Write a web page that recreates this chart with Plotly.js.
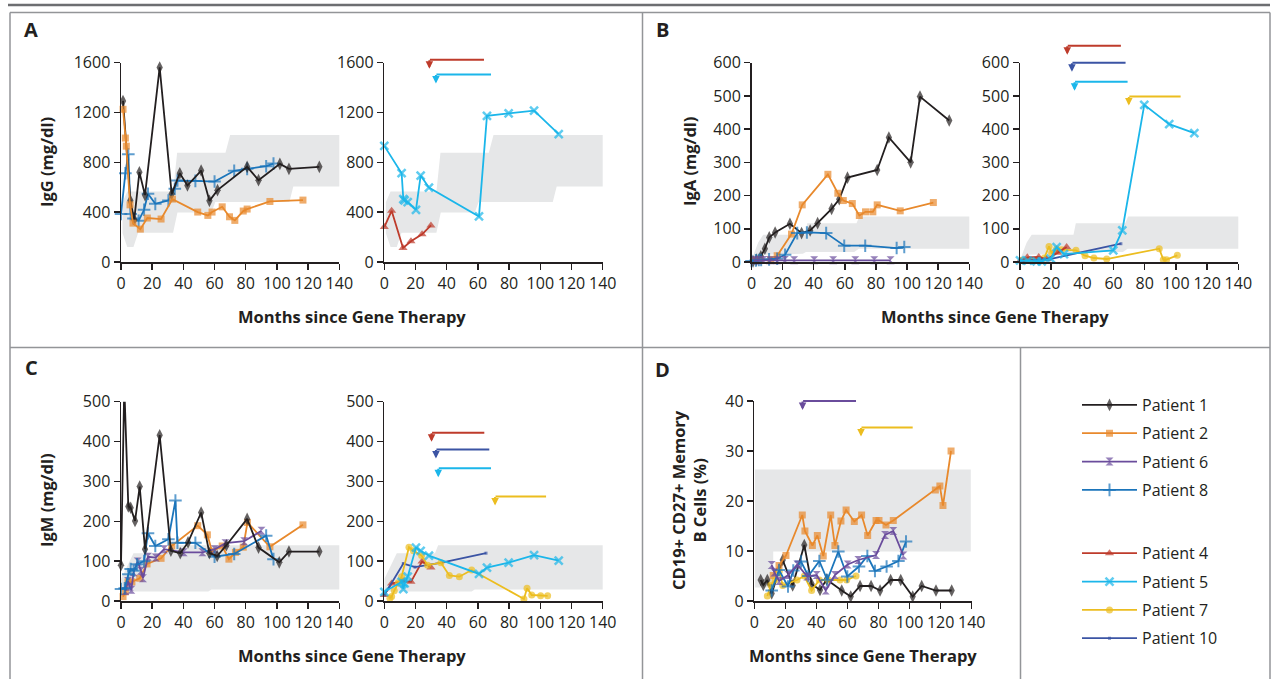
<!DOCTYPE html>
<html><head><meta charset="utf-8">
<script src="https://cdn.plot.ly/plotly-3.0.1.min.js"></script>
<style>html,body{margin:0;padding:0;background:#fff}#chart{width:1274px;height:679px}</style>
</head><body><div id="chart"></div>
<script>
// ---------------- DATA (months since gene therapy, values) ----------------
// Panel A – IgG (mg/dl)
const igg_p1_m = [1.3, 6, 8.5, 11.8, 15.4, 24.8, 32.5, 37.7, 42.6, 51.4, 56.7, 61.9, 80.9, 88.2, 101.9, 107.7, 127.2];
const igg_p1_v = [1293, 494, 340, 721, 537, 1562, 547, 713, 614, 734, 491, 577, 764, 657, 788, 748, 764];
const igg_p2_m = [1.3, 2.8, 3.4, 5.8, 7.7, 12.4, 16.9, 25.7, 33, 49.2, 55.7, 58.4, 64.9, 69.6, 73, 78.4, 80.9, 95.5, 116.7];
const igg_p2_v = [1226, 995, 930, 459, 312, 264, 353, 345, 505, 401, 374, 401, 443, 363, 334, 409, 425, 486, 497];
const igg_p8_m = [0, 2.8, 4.7, 6.2, 8, 11.3, 14.8, 17.3, 22, 30.4, 34.5, 36.2, 47.7, 60, 72.6, 80.9, 93.1, 97.8];
const igg_p8_v = [385, 713, 865, 385, 350, 331, 419, 548, 467, 494, 588, 654, 651, 646, 732, 748, 769, 790];
const igg_p5_m = [0, 11.1, 12.2, 13, 15, 20.3, 23.3, 28.6, 60.7, 65.8, 79.7, 96, 111.8];
const igg_p5_v = [932, 713, 505, 494, 481, 419, 694, 598, 366, 1173, 1194, 1215, 1026];
const igg_p4_m = [0, 4.7, 12, 17.1, 24.2, 29.9];
const igg_p4_v = [280, 411, 112, 166, 222, 294];
// normal range band (IgG)
const igg_band_up_m = [1, 4, 33.4, 36, 67, 70, 140.5];
const igg_band_up_v = [480, 566, 566, 877, 877, 1020, 1020];
const igg_band_lo_m = [1, 4, 8, 11, 33.4, 36.2, 58, 60.5, 108, 110.5, 140.5];
const igg_band_lo_v = [230, 120, 120, 235, 235, 398, 398, 481, 481, 606, 606];

// Panel B – IgA (mg/dl)
const iga_p1_m = [1, 3.2, 6, 8.6, 11.4, 15.2, 24.7, 32.2, 37.7, 42.5, 51.5, 56.4, 61.7, 80.8, 88.3, 102.3, 108.3, 127.1];
const iga_p1_v = [2, 7, 17, 40, 74, 89, 115, 87, 95, 117, 160, 189, 254, 277, 375, 300, 498, 426];
const iga_p2_m = [1.3, 5.4, 12.4, 16.5, 25.7, 32.6, 49.1, 55.5, 59, 64.8, 69.3, 73.3, 78, 80.8, 95.6, 116.9];
const iga_p2_v = [5, 7, 8, 19, 84, 172, 264, 207, 185, 176, 140, 151, 151, 172, 154, 179];
const iga_p8_m = [0, 2.8, 4.7, 6.2, 11.3, 16.5, 21.6, 29.4, 35.6, 48, 59.6, 73.1, 93.3, 98.2];
const iga_p8_v = [3, 5, 6, 6, 8, 10, 22, 87, 89, 87, 49, 49, 42, 45];
const iga_p6_m = [1.7, 4.3, 7.5, 11.8, 16.5, 21.4, 27.4, 40.3, 52.5, 66.7, 78.9, 89.4];
const iga_p6_v = [5, 5, 6, 5, 5, 6, 5, 5, 5, 5, 5, 5];
const iga_p5_m = [0, 5, 10.7, 13.9, 19.7, 23.5, 28.2, 59.8, 65.6, 79.7, 95.7, 111.8];
const iga_p5_v = [5, 4, 2, 2, 10, 45, 24, 35, 95, 473, 415, 388];
const iga_p4_m = [0, 4.7, 12, 17.1, 24.2, 29.9];
const iga_p4_v = [3, 14, 15, 8, 28, 45];
const iga_p7_m = [1, 3.5, 6.4, 9.6, 15.6, 18.6, 20.3, 23.5, 26.7, 35.9, 41.7, 47.4, 55.6, 89.3, 91.9, 94, 100.9];
const iga_p7_v = [5, 5, 5, 5, 12, 47, 27, 39, 37, 35, 19, 12, 9, 40, 7, 7, 20];
const iga_p10_m = [0, 19.2, 64.7];
const iga_p10_v = [3, 9, 55];
const iga_band_up_m = [0.5, 4.3, 7.5, 34.3, 35.8, 67.5, 69.3, 140.5];
const iga_band_up_v = [12, 59, 82, 82, 117, 117, 137, 137];
const iga_band_lo_m = [0.5, 5, 33, 35, 66, 69, 140.5];
const iga_band_lo_v = [5, 22, 25, 30, 30, 40, 40];

// Panel C – IgM (mg/dl)
const igm_p1_m = [0, 2.1, 4.7, 6.2, 9, 12, 15.4, 24.8, 32, 38, 43, 51.4, 56.7, 61.7, 67.6, 80.9, 88.2, 101.5, 107.7, 127.2];
const igm_p1_v = [90, 540, 237, 234, 201, 287, 130, 416, 126, 120, 147, 222, 120, 113, 140, 206, 134, 97, 124, 124];
const igm_p2_m = [1.3, 2.8, 4.5, 7, 12, 16.7, 25.7, 32.5, 49.2, 55.4, 58.4, 64.9, 69.2, 73.4, 78.4, 81.1, 95.5, 116.7];
const igm_p2_v = [11, 23, 48, 48, 57, 93, 107, 138, 189, 166, 124, 138, 105, 122, 135, 197, 136, 191];
const igm_p8_m = [0, 2.4, 4.7, 6.2, 8.1, 10.3, 14.8, 17.3, 22, 30.4, 34.9, 36.2, 47.7, 60, 72.6, 93.1, 97.8];
const igm_p8_v = [30, 32, 67, 80, 76, 92, 100, 170, 138, 155, 252, 146, 146, 111, 118, 164, 105];
const igm_p6_m = [2.8, 4.5, 5.6, 6.6, 8.1, 10.7, 12.8, 14.1, 17.3, 22.3, 27.6, 40.2, 52.2, 60.2, 67, 79, 90.1];
const igm_p6_v = [25, 50, 36, 28, 72, 99, 76, 57, 111, 109, 130, 122, 122, 130, 145, 150, 176];
const igm_p5_m = [0, 11.1, 12.2, 13, 15, 20.3, 23.3, 28.6, 60.7, 65.8, 79.7, 96, 111.8];
const igm_p5_v = [23, 48, 30, 44, 61, 134, 126, 114, 68, 84, 96, 115, 101];
const igm_p4_m = [0, 4.7, 12, 17.1, 24.2, 29.9];
const igm_p4_v = [15, 44, 50, 48, 99, 84];
const igm_p7_m = [3.6, 4.7, 6.4, 9, 11.1, 15.8, 18.6, 23.9, 27.8, 36.3, 41.7, 48.1, 56, 89.5, 91.5, 94.5, 100.2, 104.7];
const igm_p7_v = [7, 11, 26, 46, 61, 135, 126, 114, 90, 96, 64, 61, 78, 5, 32, 15, 13, 13];
const igm_p10_m = [0, 12.2, 19.7, 36.8, 65.2];
const igm_p10_v = [15, 94, 85, 96, 120];
const igm_band_up_m = [0, 8, 32.5, 34.5, 140.5];
const igm_band_up_v = [55, 120, 120, 140, 140];
const igm_band_lo_m = [0, 56, 58, 140.5];
const igm_band_lo_v = [24, 24, 29, 29];

// Panel D – CD19+ CD27+ memory B cells (%)
const mb_p1_m = [4.1, 5.8, 8.4, 11.2, 18.3, 24.7, 32.2, 36.9, 42.3, 46.6, 56.3, 62.1, 68.1, 75.2, 81, 87.8, 94.3, 102, 107.8, 117, 127.1];
const mb_p1_v = [4.2, 3.2, 4.2, 1.5, 8.2, 3.1, 11.2, 3.4, 2.2, 4.3, 2.1, 0.9, 3, 3, 2.1, 4.2, 4.2, 0.9, 3, 2.1, 2.1];
const mb_p2_m = [12.2, 15.9, 20.4, 30.9, 32.6, 37.4, 40.6, 44.4, 49.2, 51.9, 55.8, 59.1, 64.4, 69.1, 73, 78.4, 80.3, 84.8, 89.5, 116.6, 119.5, 121.5, 126.7];
const mb_p2_v = [5.1, 7.1, 9.1, 17.2, 14, 11.1, 13.1, 9, 17.2, 11.1, 16, 18.2, 15.9, 17.2, 13.1, 16.1, 16.1, 15.2, 16.1, 22.2, 23, 19.1, 30];
const mb_p6_m = [11.2, 12.9, 16, 21.9, 27.7, 34.1, 40.2, 46, 51.9, 60.1, 67, 78.4, 84.2, 89.5, 96];
const mb_p6_v = [7.2, 5.7, 4, 5.2, 7.3, 4.9, 5.2, 2.1, 5.2, 7.3, 8.2, 9.2, 13.2, 14, 9.1];
const mb_p8_m = [11.2, 15.9, 21.7, 25.1, 30.1, 34.8, 41.9, 47, 54.1, 59.9, 67.4, 72.8, 77.7, 85.2, 92.8, 97.7];
const mb_p8_v = [2.1, 6.2, 2.9, 6.1, 7.9, 5, 8, 4.2, 9.9, 4.9, 6.9, 9, 6, 6.9, 8, 11.9];
const mb_p7_m = [8.4, 10.7, 13.3, 16.1, 18.3, 27.5, 32.2, 36.9, 41.9, 47.7, 55.2, 59.5, 65.5];
const mb_p7_v = [1, 3.2, 4.2, 5.9, 3.1, 4.2, 5, 2.1, 4.2, 4.2, 4.2, 4.2, 5];
const mb_band_up_m = [0.4, 139.4];
const mb_band_up_v = [26.3, 26.3];
const mb_band_lo_m = [0.4, 12.2, 12.2, 139.4];
const mb_band_lo_v = [2.7, 2.7, 9.9, 9.9];

// Event markers: [patient, start month, end month, level]
const igg_events = [['p4', 28.9, 63.9, 1624], ['p5', 33.1, 68.4, 1506]];
const iga_events = [['p4', 30.3, 64.7, 651], ['p10', 33.3, 67.7, 600], ['p5', 35, 69, 543], ['p7', 69.8, 103, 498]];
const igm_events = [['p4', 30.3, 64.1, 422], ['p10', 33.1, 67.3, 380], ['p5', 34.6, 68.4, 333], ['p7', 71, 103.7, 262]];
const mb_events = [['p6', 31.1, 65.5, 40], ['p7', 68.7, 102, 34.7]];

// ---------------- STYLES ----------------
const FONT = 'Open Sans, Noto Sans, sans-serif';
const INK = '#231f20';
const W = 1274, H = 679;
const P = {
  p1:  {name: 'Patient 1',  color: '#231f20', symbol: 'diamond-tall', size: 9, lw: 0},
  p2:  {name: 'Patient 2',  color: '#e8892c', symbol: 'square', size: 7, lw: 0},
  p6:  {name: 'Patient 6',  color: '#6a4c9c', symbol: 'hourglass', size: 8, lw: 0},
  p8:  {name: 'Patient 8',  color: '#1b75bb', symbol: 'cross-thin-open', size: 9, lw: 2},
  p4:  {name: 'Patient 4',  color: '#be3b2b', symbol: 'triangle-up', size: 8, lw: 0},
  p5:  {name: 'Patient 5',  color: '#1bb6ea', symbol: 'x-thin-open', size: 8, lw: 2.5},
  p7:  {name: 'Patient 7',  color: '#ecbd1f', symbol: 'circle', size: 7, lw: 0},
  p10: {name: 'Patient 10', color: '#3b54a4', symbol: 'square', size: 3, lw: 0}
};
const legendOf = {p1: 'legend', p2: 'legend2', p6: 'legend3', p8: 'legend4', p4: 'legend5', p5: 'legend6', p7: 'legend7', p10: 'legend8'};
const legendRowY = {p1: 405, p2: 433.3, p6: 461.7, p8: 490, p4: 553.3, p5: 581.7, p7: 610, p10: 638.3};

const px = x => x / W;
const py = y => 1 - y / H;

const traces = [];
function band(ax, upM, upV, loM, loV) {
  traces.push({
    type: 'scatter', mode: 'lines', xaxis: 'x' + ax, yaxis: 'y' + ax,
    x: upM.concat(loM.slice().reverse()), y: upV.concat(loV.slice().reverse()),
    fill: 'toself', fillcolor: '#e6e7e8', line: {width: 0}, showlegend: false, hoverinfo: 'skip'
  });
}
function series(ax, key, m, v, ymax, withLegend) {
  const s = P[key];
  traces.push({
    type: 'scatter', mode: 'lines+markers', xaxis: 'x' + ax, yaxis: 'y' + ax,
    x: m, y: v, name: s.name,
    line: {color: s.color, width: 1.8},
    marker: {symbol: s.symbol, color: s.color, size: v.map(d => d > ymax ? 0 : s.size),
             line: {color: s.color, width: s.lw}},
    cliponaxis: false, hoverinfo: 'skip',
    showlegend: !!withLegend, legend: legendOf[key]
  });
}

// A
band('', igg_band_up_m, igg_band_up_v, igg_band_lo_m, igg_band_lo_v);
band('2', igg_band_up_m, igg_band_up_v, igg_band_lo_m, igg_band_lo_v);
series('', 'p8', igg_p8_m, igg_p8_v, 1600);
series('', 'p1', igg_p1_m, igg_p1_v, 1600);
series('', 'p2', igg_p2_m, igg_p2_v, 1600);
series('2', 'p4', igg_p4_m, igg_p4_v, 1600);
series('2', 'p5', igg_p5_m, igg_p5_v, 1600);
// B
band('3', iga_band_up_m, iga_band_up_v, iga_band_lo_m, iga_band_lo_v);
band('4', iga_band_up_m, iga_band_up_v, iga_band_lo_m, iga_band_lo_v);
series('3', 'p1', iga_p1_m, iga_p1_v, 600);
series('3', 'p2', iga_p2_m, iga_p2_v, 600);
series('3', 'p8', iga_p8_m, iga_p8_v, 600);
series('3', 'p6', iga_p6_m, iga_p6_v, 600);
series('4', 'p7', iga_p7_m, iga_p7_v, 600);
series('4', 'p4', iga_p4_m, iga_p4_v, 600);
series('4', 'p10', iga_p10_m, iga_p10_v, 600);
series('4', 'p5', iga_p5_m, iga_p5_v, 600);
// C
band('5', igm_band_up_m, igm_band_up_v, igm_band_lo_m, igm_band_lo_v);
band('6', igm_band_up_m, igm_band_up_v, igm_band_lo_m, igm_band_lo_v);
series('5', 'p2', igm_p2_m, igm_p2_v, 500);
series('5', 'p6', igm_p6_m, igm_p6_v, 500);
series('5', 'p8', igm_p8_m, igm_p8_v, 500);
series('5', 'p1', igm_p1_m, igm_p1_v, 500);
series('6', 'p4', igm_p4_m, igm_p4_v, 500, true);
series('6', 'p10', igm_p10_m, igm_p10_v, 500, true);
series('6', 'p7', igm_p7_m, igm_p7_v, 500);
series('6', 'p5', igm_p5_m, igm_p5_v, 500, true);
// D
band('7', mb_band_up_m, mb_band_up_v, mb_band_lo_m, mb_band_lo_v);
series('7', 'p1', mb_p1_m, mb_p1_v, 40, true);
series('7', 'p2', mb_p2_m, mb_p2_v, 40, true);
series('7', 'p7', mb_p7_m, mb_p7_v, 40, true);
series('7', 'p8', mb_p8_m, mb_p8_v, 40, true);
series('7', 'p6', mb_p6_m, mb_p6_v, 40, true);

// ---------------- AXES ----------------
const layout = {
  width: W, height: H, margin: {l: 0, r: 0, t: 0, b: 0},
  paper_bgcolor: '#fff', plot_bgcolor: 'rgba(0,0,0,0)',
  font: {family: FONT, color: INK, size: 16},
  showlegend: true, hovermode: false,
  annotations: [], shapes: []
};
function axes(n, x0, x1, y0, y1, ymax, dy) {
  const s = n === 1 ? '' : String(n);
  const common = {showline: true, linecolor: INK, linewidth: 1.5, ticks: 'outside', ticklen: 6,
    tickwidth: 1.5, tickcolor: INK, showgrid: false, zeroline: false, fixedrange: true,
    tickfont: {family: FONT, size: 16, color: INK}};
  layout['xaxis' + s] = Object.assign({}, common, {domain: [px(x0), px(x1)], range: [0, 140],
    tick0: 0, dtick: 20, anchor: 'y' + s});
  layout['yaxis' + s] = Object.assign({}, common, {domain: [py(y1), py(y0)], range: [0, ymax],
    tick0: 0, dtick: dy, anchor: 'x' + s});
}
axes(1, 121, 339.3, 62.7, 262, 1600, 400);
axes(2, 384.3, 602.7, 62.7, 262, 1600, 400);
axes(3, 751.5, 969.3, 62.7, 262, 600, 100);
axes(4, 1020, 1238.3, 62.7, 262, 600, 100);
axes(5, 121, 339.3, 401.7, 601, 500, 100);
axes(6, 384.3, 602.7, 401.7, 601, 500, 100);
axes(7, 754.3, 971.7, 401, 601, 40, 10);

// ---------------- LEGENDS (one per patient row) ----------------
Object.keys(legendOf).forEach(k => {
  layout[legendOf[k]] = {x: px(1077), xanchor: 'left', y: py(legendRowY[k]), yanchor: 'middle',
    bgcolor: 'rgba(0,0,0,0)', borderwidth: 0, itemwidth: 55,
    font: {family: FONT, size: 16, color: INK}, itemclick: false, itemdoubleclick: false};
});

// ---------------- TEXT ----------------
function txt(x, y, text, opts) {
  layout.annotations.push(Object.assign({xref: 'paper', yref: 'paper', x: px(x), y: py(y), text: text,
    showarrow: false, xanchor: 'center', yanchor: 'middle',
    font: {family: FONT, size: 16.5, color: INK, weight: 'bold'}}, opts || {}));
}
const XT = 'Months since Gene Therapy';
txt(352, 316, '<b>' + XT + '</b>');
txt(995, 316, '<b>' + XT + '</b>');
txt(352, 655, '<b>' + XT + '</b>');
txt(863, 655, '<b>' + XT + '</b>');
txt(46, 162, '<b>IgG (mg/dl)</b>', {textangle: -90});
txt(689, 162, '<b>IgA (mg/dl)</b>', {textangle: -90});
txt(46, 500, '<b>IgM (mg/dl)</b>', {textangle: -90});
txt(689, 500, '<b>CD19+ CD27+ Memory<br>B Cells (%)</b>', {textangle: -90});
const LBL = {font: {family: FONT, size: 20, color: INK, weight: 'bold'}};
txt(31, 30, '<b>A</b>', LBL);
txt(662, 30, '<b>B</b>', LBL);
txt(31, 367, '<b>C</b>', LBL);
txt(662, 370, '<b>D</b>', LBL);

// ---------------- EVENT ARROWS ----------------
// y placed through the axis' own range as a fraction of its domain (allows levels above the top tick)
function events(ax, list) {
  const r = layout['yaxis' + (ax === '' ? '' : ax)].range;
  list.forEach(e => {
    const c = P[e[0]].color;
    const f = (e[3] - r[0]) / (r[1] - r[0]);
    layout.annotations.push({xref: 'x' + ax, yref: 'y' + ax + ' domain', axref: 'x' + ax, ayref: 'pixel',
      x: e[2], y: f, ax: e[1], ay: 0, text: '', font: {size: 1}, borderpad: 0,
      showarrow: true, arrowhead: 0, arrowwidth: 2, arrowcolor: c});
    layout.annotations.push({xref: 'x' + ax, yref: 'y' + ax + ' domain', x: e[1], y: f, yshift: -9,
      ax: 0, ay: -9, text: '', font: {size: 1}, borderpad: 0,
      showarrow: true, arrowhead: 2, arrowsize: 0.75, arrowwidth: 2, arrowcolor: c});
  });
}
events('2', igg_events);
events('4', iga_events);
events('6', igm_events);
events('7', mb_events);

// ---------------- FRAME ----------------
const FR = '#939598';
function seg(x0, y0, x1, y1, col, w) {
  layout.shapes.push({type: 'line', xref: 'paper', yref: 'paper', x0: px(x0), y0: py(y0), x1: px(x1), y1: py(y1),
    line: {color: col, width: w}, layer: 'above'});
}
seg(8, 5, 1270, 5, '#6d6e71', 2.5);
seg(10, 12.5, 1270, 12.5, FR, 1.5);
seg(10, 12.5, 10, 679, FR, 1.5);
seg(1270, 12.5, 1270, 679, FR, 1.5);
seg(10, 347.5, 1270, 347.5, FR, 1.5);
seg(642.5, 12.5, 642.5, 679, FR, 1.5);
seg(1020.5, 347.5, 1020.5, 679, FR, 1.5);

Plotly.newPlot('chart', traces, layout, {displayModeBar: false, staticPlot: true});
</script></body></html>
